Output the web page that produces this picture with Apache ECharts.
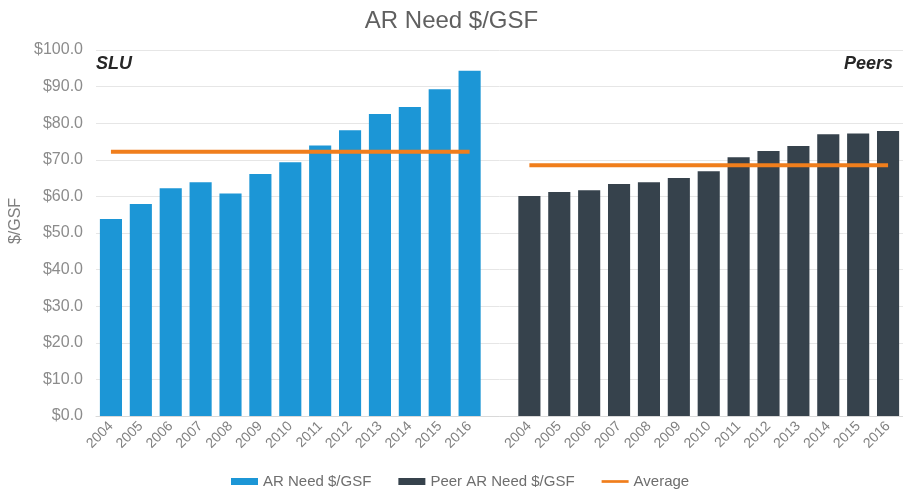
<!DOCTYPE html>
<html lang="en">
<head>
    <meta charset="UTF-8">
    <title>AR Need $/GSF</title>
    <script src="https://cdn.jsdelivr.net/npm/echarts@6/dist/echarts.min.js"></script>
</head>
<body style="margin:0">
<div id="box1" style="width: 903px;height: 500px"></div>
<script>
    var years = ['2004', '2005', '2006', '2007', '2008', '2009', '2010', '2011', '2012', '2013', '2014', '2015', '2016'];
    var sluValues = [53.8, 57.9, 62.2, 63.9, 60.8, 66.1, 69.3, 73.9, 78.1, 82.5, 84.4, 89.3, 94.3];
    var peerValues = [60.1, 61.2, 61.7, 63.4, 63.9, 65.0, 66.9, 70.7, 72.4, 73.8, 77.0, 77.2, 77.9];
    var sluAverage = 72.2;
    var peerAverage = 68.5;
    var yTicks = [0, 10, 20, 30, 40, 50, 60, 70, 80, 90, 100];

    // one axis: SLU years, an empty slot, then peer years
    var categories = years.concat(['']).concat(years);
    var blank = years.map(function () { return '-'; });
    var sluBars = sluValues.concat(['-']).concat(blank);
    var peerBars = blank.concat(['-']).concat(peerValues);
    var sluAvgLine = years.map(function () { return sluAverage; }).concat(['-']).concat(blank);
    var peerAvgLine = blank.concat(['-']).concat(years.map(function () { return peerAverage; }));

    var chart = echarts.init(document.getElementById('box1'));
    var font = 'Liberation Sans, Arial, sans-serif';

    var option = {
        textStyle: {fontFamily: font},
        animation: false,
        title: {
            text: 'AR Need $/GSF',
            left: 'center',
            top: 4,
            textStyle: {fontSize: 24, fontWeight: 'normal', color: '#606060', fontFamily: font}
        },
        grid: {left: 96, right: 0, top: 50, bottom: 84, outerBoundsMode: 'none'},
        legend: {
            bottom: 6,
            left: 226,
            itemWidth: 27,
            itemHeight: 7,
            itemGap: 27,
            textStyle: {fontSize: 15, color: '#6e6e6e', fontFamily: font},
            data: [
                {name: 'AR Need $/GSF', icon: 'rect'},
                {name: 'Peer AR Need $/GSF', icon: 'rect'},
                {name: 'Average', icon: 'path://M0,0 L30,0 L30,3 L0,3 Z'}
            ]
        },
        xAxis: {
            type: 'category',
            data: categories,
            axisTick: {show: false},
            axisLine: {lineStyle: {color: '#d9d9d9'}},
            axisLabel: {
                interval: 0,
                rotate: 45,
                margin: 8,
                fontSize: 14,
                color: '#808080'
            }
        },
        yAxis: {
            type: 'value',
            min: yTicks[0],
            max: yTicks[yTicks.length - 1],
            interval: 10,
            name: '$/GSF',
            nameLocation: 'middle',
            nameGap: 70,
            nameTextStyle: {fontSize: 16, color: '#808080', padding: [0, 0, 0, 24]},
            axisLabel: {
                margin: 13,
                fontSize: 16,
                color: '#8c8c8c',
                formatter: function (v) { return '$' + v.toFixed(1); }
            },
            splitLine: {lineStyle: {color: '#e6e6e6'}}
        },
        graphic: [
            {
                type: 'text', left: 96, top: 55,
                style: {text: 'SLU', font: 'italic bold 18px ' + font, fill: '#262626'}
            },
            {
                type: 'text', right: 10, top: 55,
                style: {text: 'Peers', font: 'italic bold 18px ' + font, fill: '#262626'}
            }
        ],
        series: [
            {
                name: 'AR Need $/GSF',
                type: 'bar',
                data: sluBars,
                barCategoryGap: '26%',
                barGap: '-100%',
                itemStyle: {color: '#1c96d6'}
            },
            {
                name: 'Peer AR Need $/GSF',
                type: 'bar',
                data: peerBars,
                barCategoryGap: '26%',
                barGap: '-100%',
                itemStyle: {color: '#36424c'}
            },
            {
                name: 'Average',
                type: 'line',
                data: sluAvgLine,
                symbol: 'none',
                lineStyle: {color: '#f07e1c', width: 4},
                itemStyle: {color: '#f07e1c'}
            },
            {
                name: 'Average',
                type: 'line',
                data: peerAvgLine,
                symbol: 'none',
                lineStyle: {color: '#f07e1c', width: 4},
                itemStyle: {color: '#f07e1c'}
            }
        ]
    };
    chart.setOption(option);
</script>
</body>
</html>
